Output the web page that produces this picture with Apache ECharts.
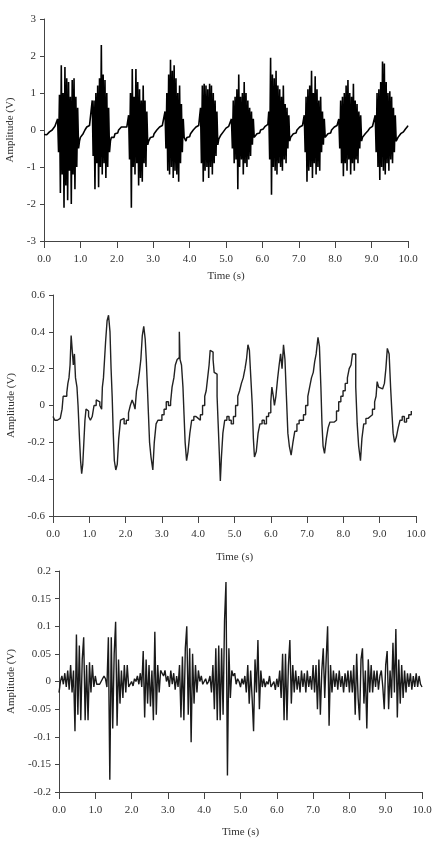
<!DOCTYPE html>
<html>
<head>
<meta charset="utf-8">
<script src="https://cdn.jsdelivr.net/npm/echarts@6/dist/echarts.min.js"></script>
<style>
  html, body { margin: 0; padding: 0; background: #fff; }
  #chart { width: 432px; height: 843px; }
</style>
</head>
<body>
<div id="chart"></div>
<script>
// raw signal, sampled every 0.025 s (0 .. 10 s)
const rawStep = 0.025;
const rawVolts = [
  -0.12, -0.15, -0.1, -0.13, -0.08, -0.1, -0.05, -0.08, -0.02, 0.0, 0.05, 0.02, 0.1, 0.08, 0.15,
  0.3, -0.6, 0.95, -1.7, 1.75, -1.2, 1.0, -2.1, 1.7, -1.5, 1.4, -1.9, 1.3, -1.1, 0.9, -2.0, 1.35, -1.2, 1.4, -1.6, 0.9, -1.0, 0.6, -0.5,
  -0.3, -0.2, -0.15, -0.18, -0.1, -0.05, 0.0, 0.05, 0.08, 0.05, 0.1, 0.12, 0.08, 0.15,
  0.8, -0.7, 0.8, -1.6, 1.0, -0.9, 1.2, -1.55, 1.4, -1.0, 2.3, -1.2, 1.5, -0.9, 1.35, -1.3, 1.0, -1.0, 0.6, -0.6,
  -0.3, -0.2, -0.25, -0.15, -0.2, -0.1, -0.15, -0.05, -0.08, 0.0, 0.02, 0.05, 0.08, 0.05, 0.1, 0.08, 0.12, 0.1, 0.08, 0.12,
  0.4, -0.8, 1.0, -2.1, 1.65, -1.0, 0.9, -1.2, 1.65, -0.9, 1.3, -1.5, 1.1, -1.3, 0.8, -1.4, 1.2, -0.9, 0.8, -1.0, 0.5, -0.4,
  -0.3, -0.25, -0.2, -0.22, -0.15, -0.18, -0.1, -0.12, -0.05, 0.0, -0.02, 0.05, 0.08, 0.1, 0.05, 0.12, 0.1, 0.15,
  0.5, -0.5, 1.0, -1.1, 1.5, -1.2, 1.9, -1.0, 1.6, -1.3, 1.75, -1.1, 1.4, -1.2, 1.0, -1.4, 1.2, -0.9, 0.7, -0.6, 0.3,
  -0.2, -0.25, -0.3, -0.2, -0.25, -0.15, -0.18, -0.1, -0.12, -0.05, 0.0, 0.02, 0.05, 0.08, 0.05, 0.1, 0.12, 0.1,
  0.6, -0.9, 1.2, -1.4, 1.25, -1.1, 1.2, -1.0, 1.1, -1.3, 1.25, -1.0, 1.2, -1.2, 1.0, -0.9, 0.8, -0.7, 0.5, -0.4,
  -0.25, -0.2, -0.15, -0.18, -0.1, -0.05, -0.08, 0.0, 0.05, 0.02, 0.08, 0.1, 0.12, 0.15,
  0.3, -0.5, 0.8, -0.9, 0.9, -0.8, 1.1, -1.6, 1.5, -1.0, 0.9, -0.8, 1.0, -1.2, 1.3, -0.9, 1.0, -1.0, 0.8, -0.8, 0.6, -0.7, 0.5, -0.4, 0.3,
  -0.2, -0.15, -0.2, -0.1, -0.12, -0.05, -0.08, 0.0, 0.02, 0.05, 0.03, 0.08, 0.1, 0.08, 0.12, 0.15,
  0.5, -0.8, 1.95, -1.75, 1.5, -1.0, 1.4, -1.1, 1.6, -1.2, 1.2, -0.9, 1.1, -1.0, 0.9, -1.1, 1.2, -0.8, 0.7, -0.9, 0.6, -0.5, 0.4, -0.3,
  -0.2, -0.15, -0.18, -0.1, -0.12, -0.05, -0.08, 0.0, 0.03, 0.05, 0.08, 0.05, 0.1, 0.12, 0.15,
  0.4, -0.6, 0.9, -1.4, 1.1, -1.1, 1.2, -1.0, 1.6, -1.3, 1.0, -0.9, 1.45, -1.2, 1.1, -1.0, 0.8, -1.1, 0.9, -0.6, 0.5, -0.4, 0.3,
  -0.2, -0.15, -0.18, -0.1, -0.12, -0.05, -0.08, 0.0, 0.02, 0.05, 0.08, 0.05, 0.1, 0.12, 0.1,
  0.3, -0.5, 0.8, -0.9, 0.9, -1.25, 1.0, -0.9, 1.2, -1.1, 1.35, -0.8, 1.0, -1.2, 0.9, -0.9, 1.25, -1.1, 0.8, -0.8, 0.7, -0.9, 0.5, -0.5, 0.4, -0.3,
  -0.2, -0.15, -0.18, -0.1, -0.12, -0.05, -0.02, 0.0, 0.05, 0.03, 0.08, 0.1, 0.12, 0.15,
  0.4, -0.6, 1.0, -1.0, 1.1, -1.35, 1.3, -1.0, 1.85, -1.1, 1.8, -1.2, 1.3, -0.9, 1.0, -1.1, 1.05, -0.8, 0.9, -0.9, 0.6, -0.6, 0.4, -0.3,
  -0.25, -0.2, -0.15, -0.18, -0.1, -0.12, -0.08, -0.05, 0.0, 0.02, 0.05, 0.08, 0.12
];

// low frequency component, [time s, volts]
const lowBand = [
  [0.00, -0.06], [0.05, -0.08], [0.12, -0.07], [0.20, -0.08], [0.25, -0.02], [0.28, 0.05], [0.33, 0.05],
  [0.38, 0.07], [0.41, 0.12], [0.44, 0.15], [0.47, 0.22], [0.50, 0.38], [0.53, 0.30], [0.56, 0.22],
  [0.59, 0.28], [0.62, 0.15], [0.66, 0.10], [0.69, 0.00], [0.73, -0.18], [0.76, -0.30], [0.79, -0.37],
  [0.82, -0.32], [0.85, -0.20], [0.88, -0.08], [0.91, -0.02], [0.94, -0.03], [0.98, -0.06],
  [1.03, -0.08], [1.08, -0.06], [1.13, 0.00], [1.19, 0.03], [1.24, 0.02], [1.29, 0.00], [1.34, -0.02],
  [1.36, 0.10], [1.39, 0.15], [1.42, 0.25], [1.45, 0.35], [1.49, 0.46], [1.53, 0.49], [1.57, 0.40],
  [1.60, 0.20], [1.63, 0.05], [1.66, -0.15], [1.69, -0.30], [1.73, -0.35], [1.77, -0.32], [1.81, -0.18],
  [1.86, -0.08], [1.91, -0.07], [1.96, -0.10],
  [2.02, -0.08], [2.08, -0.04], [2.13, 0.00], [2.18, 0.03], [2.22, 0.01], [2.26, -0.02], [2.30, 0.08],
  [2.34, 0.12], [2.38, 0.18], [2.42, 0.25], [2.46, 0.38], [2.50, 0.43], [2.54, 0.36], [2.57, 0.25],
  [2.60, 0.10], [2.63, -0.05], [2.66, -0.20], [2.70, -0.28], [2.75, -0.35], [2.79, -0.20], [2.84, -0.10],
  [2.89, -0.08], [2.94, -0.08],
  [3.00, -0.05], [3.06, -0.02], [3.12, 0.02], [3.18, 0.00], [3.24, 0.02], [3.28, 0.10], [3.33, 0.15],
  [3.37, 0.22], [3.42, 0.25], [3.46, 0.26], [3.48, 0.40], [3.50, 0.25], [3.54, 0.22], [3.58, 0.10],
  [3.61, -0.05], [3.64, -0.20], [3.68, -0.30], [3.72, -0.25], [3.77, -0.15], [3.82, -0.08], [3.88, -0.06],
  [3.94, -0.07],
  [4.00, -0.08], [4.06, -0.05], [4.12, 0.00], [4.18, 0.05], [4.22, 0.08], [4.26, 0.15], [4.30, 0.22],
  [4.33, 0.30], [4.37, 0.29], [4.41, 0.25], [4.44, 0.18], [4.48, 0.17], [4.52, 0.05], [4.55, -0.10],
  [4.58, -0.25], [4.61, -0.41], [4.64, -0.28], [4.68, -0.15], [4.73, -0.08], [4.79, -0.06], [4.85, -0.08],
  [4.91, -0.10], [4.97, -0.06],
  [5.03, 0.00], [5.09, 0.05], [5.14, 0.08], [5.19, 0.12], [5.24, 0.15], [5.29, 0.20], [5.33, 0.25],
  [5.37, 0.33], [5.41, 0.30], [5.45, 0.15], [5.49, 0.00], [5.52, -0.18], [5.55, -0.28], [5.60, -0.25],
  [5.65, -0.15], [5.70, -0.10], [5.76, -0.08], [5.82, -0.10], [5.88, -0.06], [5.94, -0.04],
  [6.00, 0.02], [6.03, 0.10], [6.07, 0.05], [6.10, 0.00], [6.14, 0.05], [6.19, 0.15], [6.23, 0.22],
  [6.27, 0.28], [6.31, 0.20], [6.35, 0.33], [6.39, 0.25], [6.43, 0.05], [6.47, -0.15], [6.51, -0.22],
  [6.56, -0.27], [6.61, -0.20], [6.66, -0.14], [6.72, -0.10], [6.78, -0.08], [6.84, -0.08], [6.90, -0.05],
  [6.96, 0.00],
  [7.02, 0.05], [7.07, 0.10], [7.12, 0.15], [7.17, 0.18], [7.21, 0.24], [7.25, 0.28], [7.30, 0.37],
  [7.34, 0.32], [7.38, 0.10], [7.41, -0.10], [7.44, -0.22], [7.48, -0.26], [7.53, -0.18], [7.58, -0.12],
  [7.63, -0.09], [7.69, -0.09], [7.75, -0.08], [7.81, -0.03], [7.87, 0.02], [7.93, 0.05], [7.99, 0.08],
  [8.05, 0.12], [8.11, 0.15], [8.16, 0.20], [8.21, 0.22], [8.25, 0.28], [8.30, 0.28], [8.34, 0.10],
  [8.38, -0.10], [8.42, -0.22], [8.47, -0.30], [8.51, -0.18], [8.56, -0.10], [8.62, -0.07], [8.68, -0.06],
  [8.74, -0.05], [8.80, -0.02], [8.86, 0.02], [8.90, 0.05], [8.93, 0.13], [8.97, 0.10],
  [9.02, 0.09], [9.08, 0.08], [9.13, 0.12], [9.17, 0.20], [9.21, 0.31], [9.26, 0.28], [9.30, 0.10],
  [9.34, -0.05], [9.37, -0.15], [9.41, -0.20], [9.46, -0.17], [9.51, -0.12], [9.56, -0.08], [9.62, -0.06],
  [9.68, -0.09], [9.74, -0.07], [9.80, -0.05], [9.87, -0.03]
];

// high frequency component, sampled every 0.04 s
const highStep = 0.04;
const highVolts = [
  -0.02, 0.0, 0.01, -0.005, 0.015,
  -0.01, 0.02, -0.015, 0.03, -0.02, 0.02,
  -0.09, 0.085, -0.06, 0.065, -0.07, 0.04, 0.08, -0.07, 0.03, -0.07, 0.035, -0.02, 0.03, -0.01, 0.01,
  -0.005, -0.008, -0.005, 0.0, 0.005, 0.01, 0.005, -0.01,
  0.08, -0.178, 0.08, -0.085, 0.05, 0.108, -0.08, 0.04, -0.04, 0.02, -0.03, 0.03, -0.02, 0.03,
  -0.01, -0.005, 0.0, -0.008, 0.005, 0.0, 0.01, -0.005, 0.015,
  -0.01, 0.055, -0.065, 0.04, -0.04, 0.03, -0.045, 0.02, -0.07, 0.09, -0.06, 0.03, -0.02, 0.02, 0.015, 0.01, 0.02, 0.0,
  0.01, -0.01, 0.02, -0.005, 0.015, -0.015, 0.01, -0.01,
  0.03, -0.065, 0.045, -0.07, 0.06, 0.1, -0.06, 0.06, -0.11, 0.05, -0.04, 0.03, -0.02, 0.02, 0.0, 0.01,
  -0.005, 0.0, 0.005, -0.005, 0.0, 0.01,
  -0.02, 0.03, -0.05, 0.06, -0.07, 0.065, -0.07, 0.06, -0.06, 0.11, 0.18, -0.17, 0.06, -0.03, 0.02, 0.01, 0.015, -0.005, 0.005,
  0.0, -0.01, 0.005, -0.005, 0.01, -0.02,
  0.03, -0.04, 0.02, -0.03, -0.09, 0.04, -0.02, 0.075, -0.05, 0.02, -0.01,
  0.005, -0.01, 0.0, -0.005, 0.01, -0.01, -0.005, 0.0, -0.015, 0.005, -0.01,
  0.02, -0.03, 0.05, -0.07, 0.05, -0.07, 0.03, 0.075, -0.04, 0.03, -0.02, 0.02, -0.015,
  0.01, -0.02, 0.02, -0.01, 0.015, -0.02, 0.02, -0.01, 0.01, -0.015,
  0.03, -0.02, 0.03, -0.05, 0.04, -0.06, 0.02, 0.06, -0.03, 0.04, 0.1, -0.08, 0.03, -0.02,
  0.02, -0.01, 0.015, -0.015, 0.02, -0.01, 0.01, -0.02, 0.015, -0.01, 0.02, -0.02,
  0.02, -0.02, 0.03, -0.06, 0.05, -0.03, -0.07, 0.04, 0.06, -0.04, 0.02, -0.085, 0.04, -0.02, 0.03, -0.02, 0.02, -0.01, 0.02, -0.015, 0.01,
  0.02, -0.01, -0.05, 0.03, 0.055, -0.05, 0.02, -0.03, 0.07, -0.02, 0.095, -0.065, 0.04, -0.04, 0.03, -0.03,
  0.02, -0.02, 0.015, -0.01, 0.015, -0.015, 0.01, -0.01, 0.015, -0.01, 0.01, -0.005, -0.01
];

const font = "'Liberation Serif', 'Times New Roman', serif";
const axisColor = '#444';
const textColor = '#333';

const makeX = (idx, gap) => ({
  type: 'value', gridIndex: idx, min: 0, max: 10, interval: 1,
  name: 'Time (s)', nameLocation: 'middle', nameGap: gap,
  nameTextStyle: { fontFamily: font, fontSize: 11, color: textColor },
  axisLine: { onZero: false, lineStyle: { color: axisColor, width: 1 } },
  axisTick: { length: 7, lineStyle: { color: axisColor } },
  axisLabel: { fontFamily: font, fontSize: 11, color: textColor, margin: 13,
    formatter: v => v.toFixed(1) },
  splitLine: { show: false }
});

const makeY = (idx, min, max, step, gap) => ({
  type: 'value', gridIndex: idx, min: min, max: max, interval: step,
  name: 'Amplitude (V)', nameLocation: 'middle', nameGap: gap,
  nameTextStyle: { fontFamily: font, fontSize: 11, color: textColor },
  axisLine: { show: true, lineStyle: { color: axisColor, width: 1 } },
  axisTick: { show: true, length: 4, lineStyle: { color: axisColor } },
  axisLabel: { fontFamily: font, fontSize: 11, color: textColor, margin: 8 },
  splitLine: { show: false }
});

const chart = echarts.init(document.getElementById('chart'), null, { renderer: 'canvas' });

chart.setOption({
  animation: false,
  backgroundColor: '#fff',
  grid: [
    { left: 44, top: 19, width: 364, height: 222, outerBoundsMode: 'none' },
    { left: 53, top: 295, width: 363, height: 221, outerBoundsMode: 'none' },
    { left: 59, top: 571, width: 363, height: 221, outerBoundsMode: 'none' }
  ],
  xAxis: [makeX(0, 30), makeX(1, 36), makeX(2, 35)],
  yAxis: [
    makeY(0, -3, 3, 1, 28),
    makeY(1, -0.6, 0.6, 0.2, 36),
    makeY(2, -0.2, 0.2, 0.05, 42)
  ],
  series: [
    {
      type: 'line', xAxisIndex: 0, yAxisIndex: 0, symbol: 'none',
      lineStyle: { color: '#000', width: 1.6 },
      data: rawVolts.map((v, i) => [i * rawStep, v])
    },
    {
      type: 'line', xAxisIndex: 1, yAxisIndex: 1, symbol: 'none', step: 'end',
      lineStyle: { color: '#222', width: 1.4 },
      data: lowBand
    },
    {
      type: 'line', xAxisIndex: 2, yAxisIndex: 2, symbol: 'none',
      lineStyle: { color: '#1a1a1a', width: 1.4 },
      data: highVolts.map((v, i) => [i * highStep, v])
    }
  ]
});
</script>
</body>
</html>
